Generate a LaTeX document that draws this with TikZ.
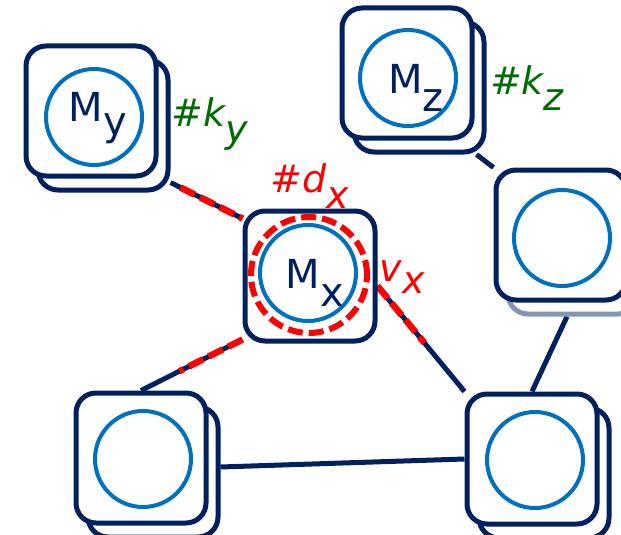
\documentclass[tikz,border=0pt]{standalone}
\usepackage{fontspec}
\setmainfont{DejaVu Sans}
\usetikzlibrary{backgrounds}
\definecolor{netnavy}{HTML}{002060}
\definecolor{netblue}{HTML}{0070C0}
\definecolor{netgreen}{HTML}{006B00}
\definecolor{netgray}{HTML}{8496B0}
\definecolor{netred}{HTML}{FF0000}
\newcommand{\lowsub}[3][.45em]{#2\raisebox{-#1}{#3}}

\begin{document}
\begin{tikzpicture}[x=1pt,y=-1pt,
  card/.style={draw=netnavy,fill=white,line width=5pt,rounded corners=20pt,minimum width=130pt,minimum height=130pt,inner sep=0pt},
  core/.style={circle,draw=netblue,line width=4pt,minimum size=96pt,inner sep=0pt},
  link/.style={draw=netnavy,line width=5pt},
  hot/.style={draw=netred,line width=6.5pt,dash pattern=on 16pt off 6pt},
  mname/.style={inner sep=0pt,text=netnavy,font=\fontsize{40}{40}\selectfont},
  tag/.style={inner sep=0pt,font=\fontsize{38}{38}\selectfont\itshape}]
  \useasboundingbox (0,0) rectangle (621,535);
  % stacked cards: the copy behind, then the front one
  \foreach \n/\x/\y in {My/91/111,Mz/407/73,BL/141/458,BR/532/459}{
    \node[card] (\n-back) at (\x+12,\y+14) {};
    \node[card] (\n) at (\x,\y) {};
  }
  \node[card,draw=netgray] (R-back) at (573,249) {};
  \node[card] (R) at (561,235) {};
  \node[card] (Mx) at (310,276) {};
  \foreach \n/\x/\y in {My/94/117,Mz/408/78,Mx/308/273,R/562/238,BL/143/459,BR/535/460}
    \node[core] (\n-core) at (\x,\y) {};
  % names inside the circles
  \node[mname] (My-name) at (98,118) {\lowsub[.33em]{M}{y}};
  \node[mname] (Mz-name) at (416,88) {\lowsub{M}{z}};
  \node[mname] (Mx-name) at (315,283) {\lowsub{M}{x}};
  \node[circle,draw=netred,line width=6pt,dash pattern=on 15pt off 6pt,minimum size=116pt] (Mx-ring) at (309,275) {};
  % labels
  \node[tag,text=netgreen] (ky) at (210,124) {\lowsub[.4em]{\#k}{y}};
  \node[tag,text=netgreen] (kz) at (527,88) {\lowsub[.4em]{\#k}{z}};
  \node[tag,text=netred] (dx) at (310,186) {\lowsub[.4em]{\#d}{x}};
  \node[tag,text=netred] (vx) at (402,277) {\lowsub[.33em]{v}{x}};
  % links run under the cards
  \begin{scope}[on background layer]
    \draw[link] ([yshift=10pt]My-back.south east) -- ([yshift=-10pt]Mx.north west);
    \draw[hot,shorten <=11pt] ([yshift=10pt]My-back.south east) -- ([yshift=-10pt]Mx.north west);
    \draw[link] ([yshift=4pt]Mx.south west) -- (BL.north);
    \draw[hot,shorten >=43pt] ([yshift=4pt]Mx.south west) -- (BL.north);
    \draw[link] ([yshift=-10pt]Mx.east) -- (BR.north west);
    \draw[hot,shorten >=63pt] ([yshift=-10pt]Mx.east) -- (BR.north west);
    \draw[link] ([xshift=-10pt]Mz-back.south east) -- (R.north west);
    \draw[link] ([xshift=-6pt]R-back.south) -- (BR.north);
    \draw[link] ([yshift=5pt]BL-back.east) -- (BR.west);
  \end{scope}
\end{tikzpicture}
\end{document}
